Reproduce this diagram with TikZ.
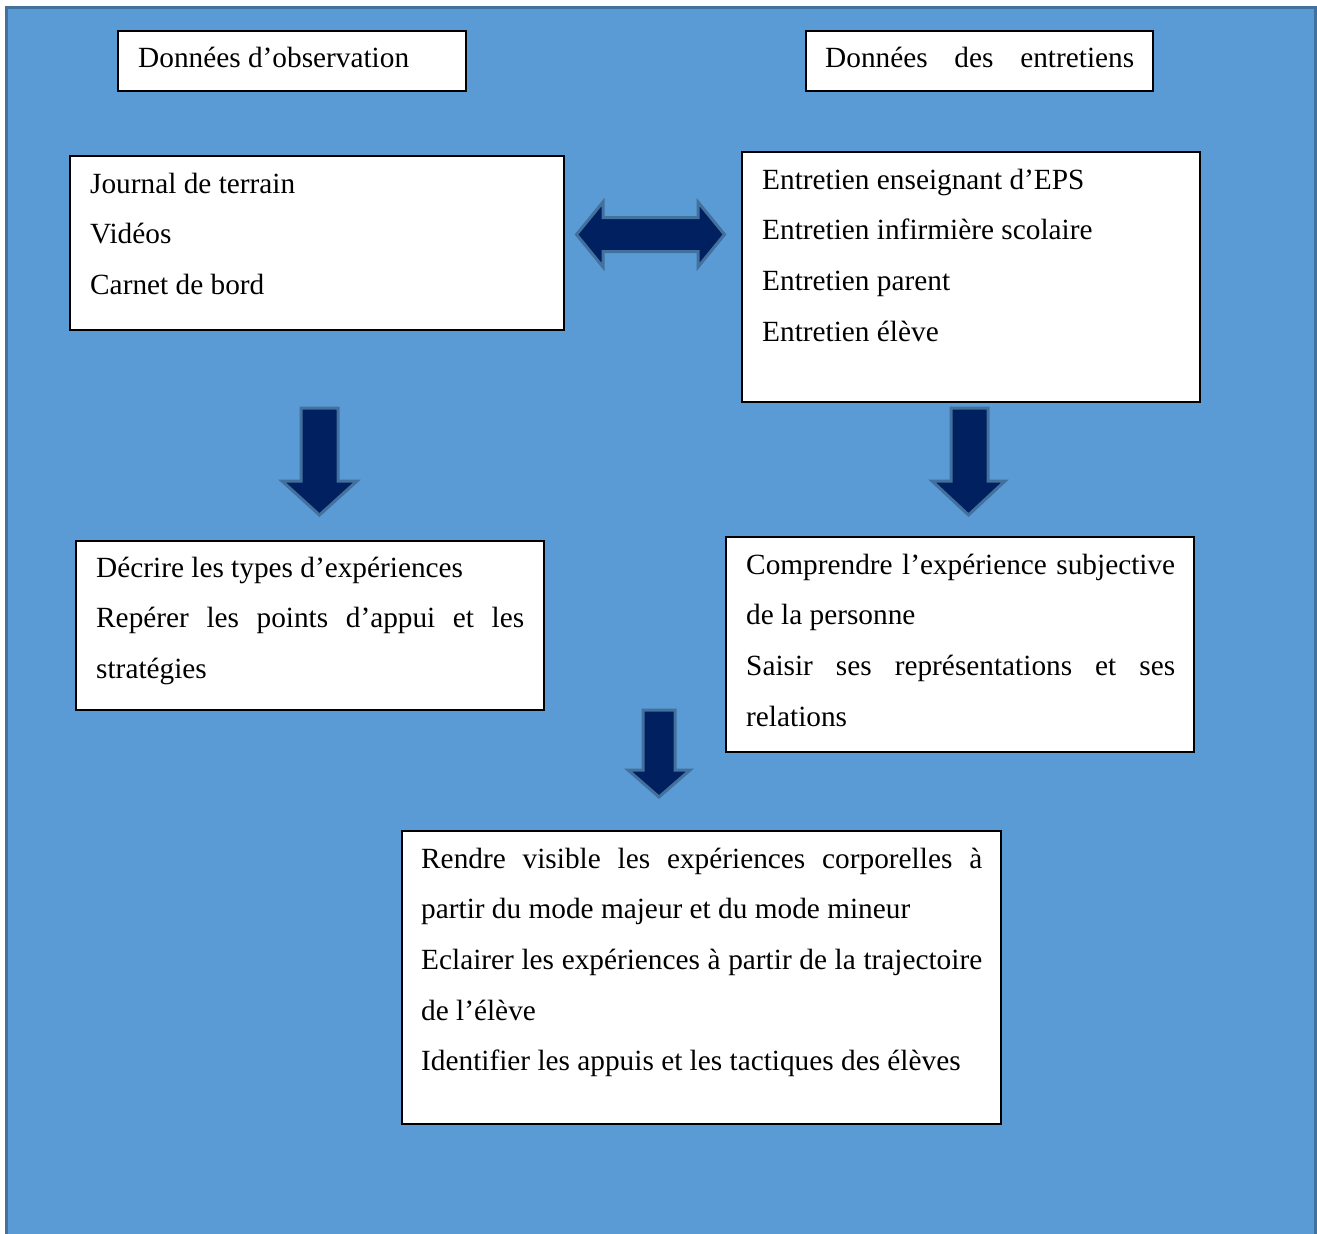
\documentclass[tikz,border=0pt]{standalone}
\usepackage{fontspec}
\setmainfont{Liberation Serif}
\definecolor{bgblue}{HTML}{5B9BD5}
\definecolor{bgedge}{HTML}{41719C}
\definecolor{navy}{HTML}{002060}
\definecolor{arrowedge}{HTML}{41719C}
\tikzset{
  box/.style={draw=black, line width=2pt, fill=white, inner sep=0pt, rectangle},
  txt/.style={inner sep=0pt, anchor=base west, font=\fontsize{29.3}{50.7}\selectfont},
  blockarrow/.style={fill=navy, draw=arrowedge, line width=3pt, line join=miter},
}
\newcommand{\jline}[1]{\makebox[\linewidth][s]{#1}}
\begin{document}
\begin{tikzpicture}[x=1pt, y=-1pt]
\useasboundingbox (0,0) rectangle (1317,1234);
\fill[bgblue, draw=bgedge, line width=2.5pt] (6.5,7.5) rectangle (1315.5,1260);

% boxes
\node[box, minimum width=348pt, minimum height=60pt] (obs) at (292,61) {};
\node[box, minimum width=347pt, minimum height=60pt] (ent) at (979.5,61) {};
\node[box, minimum width=494pt, minimum height=174pt] (jour) at (317,243) {};
\node[box, minimum width=458pt, minimum height=250pt] (entr) at (971,277) {};
\node[box, minimum width=468pt, minimum height=169pt] (decr) at (310,625.5) {};
\node[box, minimum width=468pt, minimum height=215pt] (comp) at (960,644.5) {};
\node[box, minimum width=599pt, minimum height=293pt] (rend) at (701.5,977.5) {};

% texts
\node[txt] (obsT) at (138,67) {Données d’observation};
\node[txt] (entT) at (825,67) {\parbox[t]{309pt}{\jline{Données des entretiens}}};
\node[txt] (jourT) at (90,193) {\parbox[t]{450pt}{Journal de terrain\\Vidéos\\Carnet de bord}};
\node[txt] (entrT) at (762,189) {\parbox[t]{420pt}{Entretien enseignant d’EPS\\Entretien infirmière scolaire\\Entretien parent\\Entretien élève}};
\node[txt] (decrT) at (96,577) {\parbox[t]{428pt}{Décrire les types d’expériences\\\jline{Repérer les points d’appui et les}\\stratégies}};
\node[txt] (compT) at (746,574) {\parbox[t]{429pt}{\jline{Comprendre l’expérience subjective}\\de la personne\\\jline{Saisir ses représentations et ses}\\relations}};
\node[txt] (rendT) at (421,868) {\parbox[t]{561pt}{\jline{Rendre visible les expériences corporelles à}\\partir du mode majeur et du mode mineur\\\jline{Eclairer les expériences à partir de la trajectoire}\\de l’élève\\Identifier les appuis et les tactiques des élèves}};

% block arrows
\draw[blockarrow] (576.5,234.5) -- (603,202) -- (603,217.5) -- (698,217.5) -- (698,202) -- (724.5,234.5) -- (698,267) -- (698,251.5) -- (603,251.5) -- (603,267) -- cycle;
\draw[blockarrow] (301,408) -- (338,408) -- (338,481) -- (357,481) -- (319.5,515) -- (282,481) -- (301,481) -- cycle;
\draw[blockarrow] (951,408) -- (988,408) -- (988,481) -- (1005,481) -- (968.5,515) -- (932,481) -- (951,481) -- cycle;
\draw[blockarrow] (643,710) -- (675,710) -- (675,770) -- (690,770) -- (659,797) -- (628,770) -- (643,770) -- cycle;
\end{tikzpicture}
\end{document}
